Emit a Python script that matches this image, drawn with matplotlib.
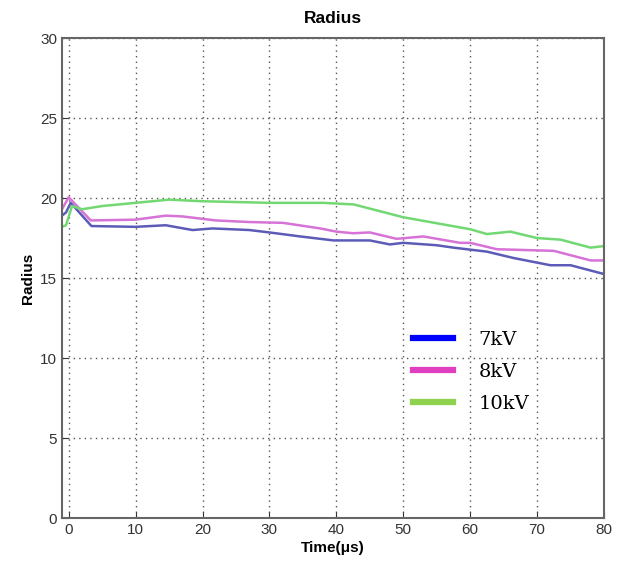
import numpy as np
import matplotlib.pyplot as plt
from matplotlib.lines import Line2D

plt.rcParams["font.family"] = ["Liberation Sans", "DejaVu Sans"]

# 7kV
t7 = [-1, -0.4, 0.3, 3.4, 10, 14.5, 18.5, 21.5, 27, 30, 34.6, 39.6, 45, 48, 50, 55, 57.5, 62.5, 66.5, 72, 75, 80]
r7 = [18.9, 19.1, 19.7, 18.25, 18.2, 18.3, 18.0, 18.1, 18.0, 17.85, 17.6, 17.35, 17.35, 17.1, 17.2, 17.05, 16.9, 16.65, 16.25, 15.8, 15.8, 15.25]
# 8kV
t8 = [-1, 0.0, 3.3, 10, 14.5, 17, 22, 27, 32, 37.6, 40, 42.5, 45, 49, 53, 58.5, 60, 64, 72.5, 78, 80]
r8 = [19.3, 20.05, 18.6, 18.65, 18.9, 18.85, 18.6, 18.5, 18.45, 18.1, 17.9, 17.8, 17.85, 17.45, 17.6, 17.2, 17.2, 16.8, 16.7, 16.1, 16.1]
# 10kV
t10 = [-1, -0.4, 0.5, 2, 5, 10, 15, 20, 25, 30, 35, 38, 42.6, 50, 60, 62.5, 66, 70, 73.5, 78, 80]
r10 = [18.2, 18.3, 19.5, 19.3, 19.5, 19.7, 19.9, 19.8, 19.75, 19.7, 19.7, 19.7, 19.6, 18.8, 18.05, 17.75, 17.9, 17.5, 17.4, 16.9, 17.0]

labels = ["7kV", "8kV", "10kV"]
legend_colors = ["#0000ff", "#e040c0", "#8fd24f"]

fig = plt.figure(figsize=(6.23, 5.68), dpi=100)
ax = fig.add_axes([0.0995, 0.088, 0.87, 0.845])

ax.plot(t7, r7, color="#5c5cb8", lw=1.8)
ax.plot(t8, r8, color="#d772d7", lw=1.8)
ax.plot(t10, r10, color="#72d872", lw=1.8)

ax.set_xlim(-1, 80)
ax.set_ylim(0, 30)
ax.set_xticks(range(0, 81, 10))
ax.set_yticks(range(0, 31, 5))
ax.grid(True, linestyle=(0, (1, 3)), color="#555555", lw=1)
ax.tick_params(direction="in", labelsize=11, colors="#333333", length=4)
for s in ax.spines.values():
    s.set_color("#666666")
    s.set_linewidth(1.5)

ax.set_title("Radius", fontweight="bold", fontsize=12.5, pad=11)
ax.set_ylabel("Radius", fontweight="bold", fontsize=11)
ax.set_xlabel("Time(μs)", fontweight="bold", fontsize=11, labelpad=3)

handles = [Line2D([], [], color=c, lw=4.5) for c in legend_colors]
ax.legend(handles, labels, loc="upper left", bbox_to_anchor=(0.648, 0.39), frameon=False,
          borderpad=0, borderaxespad=0,
          prop={"family": "DejaVu Serif", "size": 14}, handlelength=2.06, handletextpad=1.3,
          labelspacing=0.72)

fig.savefig("out.png", dpi=100)
